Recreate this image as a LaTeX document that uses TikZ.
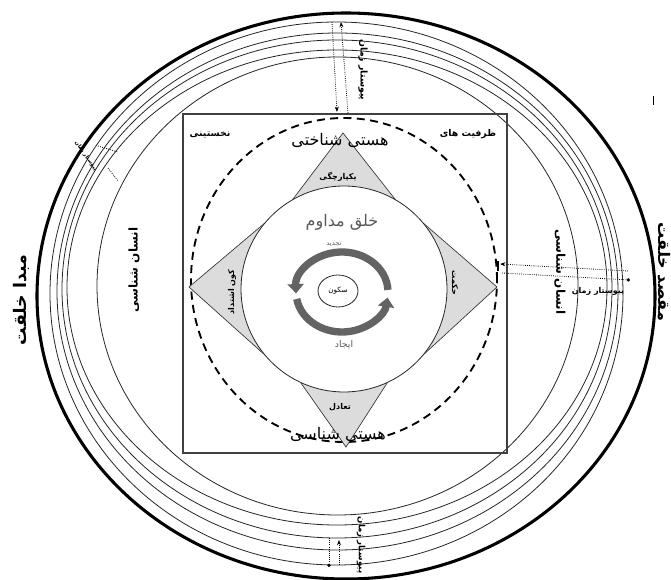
\documentclass[tikz,border=0pt]{standalone}
\usepackage{fontspec}
\usepackage{tikz}
\usetikzlibrary{arrows.meta,calc,positioning}
\TeXXeTstate=1
\newfontfamily\fafont[Script=Arabic]{DejaVu Sans}
\definecolor{wedgeCol}{HTML}{DCDCDC}
\definecolor{cycCol}{HTML}{636363}
\definecolor{softCol}{HTML}{5A5A5A}
\newcommand{\fa}[1]{\beginR #1\endR}
\tikzset{
  rimline/.style={line width=2.3pt},
  ringline/.style={line width=0.6pt, black!85},
  sqframe/.style={line width=0.9pt, black!75},
  dashorbit/.style={line width=1.4pt, dash pattern=on 6pt off 4pt},
  wedgeline/.style={line width=0.5pt, black!80},
  cycarrow/.style={line width=5.5pt, cycCol, -{Triangle[width=12pt,length=7pt]}},
  spanline/.style={densely dotted, line width=0.6pt, -{Stealth[length=4pt]}},
  spandot/.style={densely dotted, line width=0.6pt, -{Circle[length=2.5pt]}},
  falbl/.style={font=\fafont\bfseries\fontsize{#1}{#1}\selectfont, inner sep=0pt},
  falbl/.default=6,
  fathin/.style={font=\fafont\fontsize{#1}{#1}\selectfont, inner sep=0pt},
}

\begin{document}
\begin{tikzpicture}[x=0.75pt, y=0.75pt]
  \useasboundingbox (0,0) rectangle (671,-580);
  \clip (0,0) rectangle (671,-580);

  % outer rings
  \draw[rimline] (346,-296) ellipse [x radius=309, y radius=283];
  \foreach \cx/\cy/\rx/\ry in {336.5/293.5/286.5/271.5, 337.5/291.5/280.5/258.5,
                               337/289/275/249, 337/287.5/270/237.5}
    \draw[ringline] (\cx,-\cy) ellipse [x radius=\rx, y radius=\ry];
  \draw[ringline] (337.5,-286) ellipse [x radius=240.5, y radius=229];

  % frame and dashed orbit
  \draw[sqframe] (183,-114) rectangle (507,-453);
  \draw[dashorbit] (344,-280) ellipse [x radius=153, y radius=162];

  % four wedges round the core
  \coordinate (hub) at (344,-289);
  \foreach \ax/\ay/\aa/\ab in {343/133/60/120, 189/287/140/220, 346/447/245/295, 497/287/-40/40}{
    \fill[wedgeCol] (\ax,-\ay) -- ($(hub)+(\aa:103)$) -- (hub) -- ($(hub)+(\ab:103)$) -- cycle;
    \draw[wedgeline] ($(hub)+(\aa:103)$) -- (\ax,-\ay) -- ($(hub)+(\ab:103)$);
  }
  \draw[ringline, fill=white] (hub) circle [radius=103];

  % cycle in the core
  \coordinate (cyc) at (342,-292);
  \draw[cycarrow] ($(cyc)+(3:46 and 40)$) arc[start angle=3, end angle=182, x radius=46, y radius=40];
  \draw[cycarrow] ($(cyc)+(190:46 and 40)$) arc[start angle=190, end angle=352, x radius=46, y radius=40];
  \draw[ringline] (338,-291) ellipse [x radius=20, y radius=16];

  % labels
  \node[falbl=13, rotate=90] (origin) at (21,-300) {\fa{مبدا خلقت}};
  \node[falbl=12, rotate=-90] (goal) at (664,-272) {\fa{مقصد خلقت}};
  \node[falbl=9, rotate=90] (anthL) at (134,-270) {\fa{انسان شناسی}};
  \node[falbl=9, rotate=-90] (anthR) at (560,-272) {\fa{انسان شناسی}};
  \node[falbl=7] (first) at (210,-135) {\fa{نخستینی}};
  \node[falbl=7] (capac) at (468,-134) {\fa{ظرفیت های}};
  \node[fathin=12] (ontoT) at (340,-140) {\fa{هستی شناختی}};
  \node[falbl] (unity) at (338,-177) {\fa{یکپارچگی}};
  \node[fathin=12, text=softCol] (creat) at (342,-222) {\fa{خلق مداوم}};
  \node[fathin=5, text=softCol] (renew) at (334,-244) {\fa{تجدید}};
  \node[fathin=5.5] (rest) at (338,-291) {\fa{سکون}};
  \node[fathin=7, text=softCol] (make) at (344,-345) {\fa{ایجاد}};
  \node[falbl, rotate=90] (wedL) at (232,-292) {\fa{کون اشتداد}};
  \node[falbl, rotate=-90] (wedR) at (455,-283) {\fa{حکمت}};
  \node[falbl] (balan) at (340,-407) {\fa{تعادل}};
  \node[fathin=12] (ontoB) at (338,-434) {\fa{هستی شناسی}};
  \node[falbl] (timeR) at (598,-291) {\fa{پیوستار زمان}};
  \node[falbl=7, rotate=-90] (timeT) at (363,-70) {\fa{پیوستار زمان}};
  \node[falbl=6.5, rotate=-90] (timeB) at (361,-545) {\fa{پیوستار زمان}};
  \node[falbl=4, rotate=-55] (timeD) at (86,-156) {\fa{پیوستار زمان}};

  % time spans
  \coordinate (tA1) at (332,-22);  \coordinate (tA2) at (337,-112);
  \coordinate (tB1) at (348,-113); \coordinate (tB2) at (341,-22);
  \draw[spanline] (tA1) -- (tA2);
  \draw[spanline] (tB1) -- (tB2);
  \coordinate (rA1) at (628,-271); \coordinate (rA2) at (500,-264);
  \coordinate (rB1) at (502,-273); \coordinate (rB2) at (630,-280);
  \draw[spanline] (rA1) -- (rA2);
  \draw[spandot] (rB1) -- (rB2);
  \draw[line width=0.8pt] (498,-261) -- (498,-271);
  \coordinate (bA1) at (329,-538); \coordinate (bA2) at (329,-567);
  \coordinate (bB1) at (339,-565); \coordinate (bB2) at (339,-540);
  \draw[spandot] (bA1) -- (bA2);
  \draw[spanline] (bB1) -- (bB2);
  \coordinate (dA1) at (98,-146); \coordinate (dA2) at (118,-152);
  \coordinate (dB1) at (108,-168); \coordinate (dB2) at (118,-181);
  \draw[densely dotted, line width=0.6pt] (dA1) -- (dA2);
  \draw[densely dotted, line width=0.6pt] (dB1) -- (dB2);
  \draw[line width=0.6pt] (653,-96) -- (653,-105);
\end{tikzpicture}
\end{document}
